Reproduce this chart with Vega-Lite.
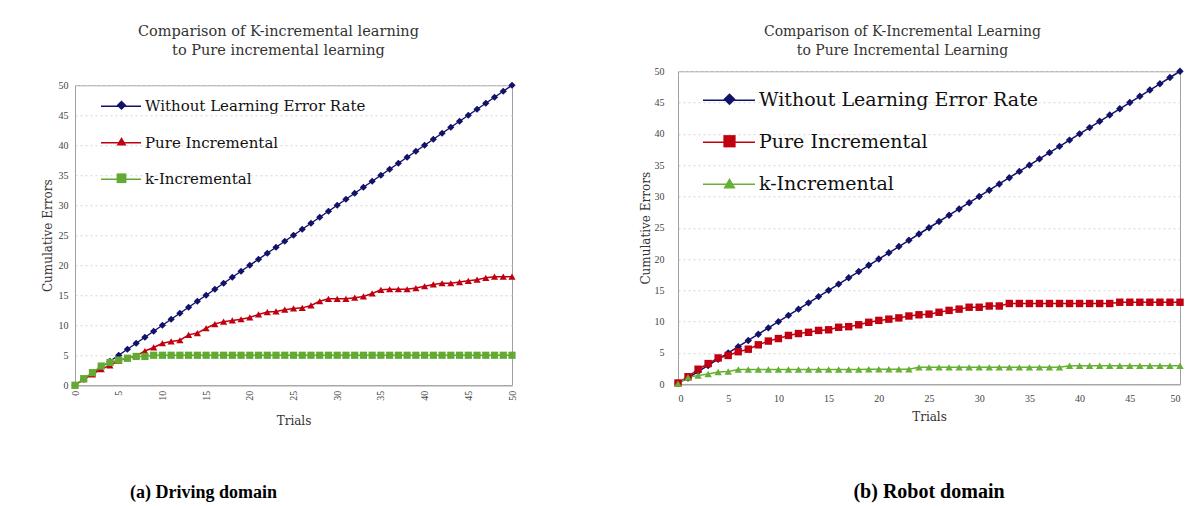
{
"$schema": "https://vega.github.io/schema/vega-lite/v6.json",
"background": "white",
"padding": {"left": 40, "top": 22, "right": 0, "bottom": 0},
"center": true,
"spacing": 120,
"config": {
  "font": "DejaVu Serif",
  "view": {"stroke": "#a0a0a0"},
  "axis": {"domainColor": "#a0a0a0", "ticks": false, "labelFont": "Liberation Serif", "labelFontSize": 10, "labelColor": "#444", "titleFont": "DejaVu Serif", "titleFontSize": 12, "titleFontWeight": "normal", "titleColor": "#333", "gridColor": "#d4d4d4", "gridDash": [2, 3]},
  "legend": {"labelLimit": 500, "padding": 0}
},
"resolve": {"scale": {"color": "independent", "fill": "independent", "shape": "independent"}, "legend": {"color": "independent", "fill": "independent", "shape": "independent"}},
"datasets": {
"driving": [
{"trial":0,"errors":0,"series":"Without Learning Error Rate"},{"trial":1,"errors":1,"series":"Without Learning Error Rate"},{"trial":2,"errors":2,"series":"Without Learning Error Rate"},{"trial":3,"errors":3,"series":"Without Learning Error Rate"},{"trial":4,"errors":4,"series":"Without Learning Error Rate"},{"trial":5,"errors":5,"series":"Without Learning Error Rate"},{"trial":6,"errors":6,"series":"Without Learning Error Rate"},{"trial":7,"errors":7,"series":"Without Learning Error Rate"},{"trial":8,"errors":8,"series":"Without Learning Error Rate"},{"trial":9,"errors":9,"series":"Without Learning Error Rate"},{"trial":10,"errors":10,"series":"Without Learning Error Rate"},{"trial":11,"errors":11,"series":"Without Learning Error Rate"},{"trial":12,"errors":12,"series":"Without Learning Error Rate"},{"trial":13,"errors":13,"series":"Without Learning Error Rate"},{"trial":14,"errors":14,"series":"Without Learning Error Rate"},{"trial":15,"errors":15,"series":"Without Learning Error Rate"},{"trial":16,"errors":16,"series":"Without Learning Error Rate"},{"trial":17,"errors":17,"series":"Without Learning Error Rate"},{"trial":18,"errors":18,"series":"Without Learning Error Rate"},{"trial":19,"errors":19,"series":"Without Learning Error Rate"},{"trial":20,"errors":20,"series":"Without Learning Error Rate"},{"trial":21,"errors":21,"series":"Without Learning Error Rate"},{"trial":22,"errors":22,"series":"Without Learning Error Rate"},{"trial":23,"errors":23,"series":"Without Learning Error Rate"},{"trial":24,"errors":24,"series":"Without Learning Error Rate"},{"trial":25,"errors":25,"series":"Without Learning Error Rate"},{"trial":26,"errors":26,"series":"Without Learning Error Rate"},{"trial":27,"errors":27,"series":"Without Learning Error Rate"},{"trial":28,"errors":28,"series":"Without Learning Error Rate"},{"trial":29,"errors":29,"series":"Without Learning Error Rate"},{"trial":30,"errors":30,"series":"Without Learning Error Rate"},{"trial":31,"errors":31,"series":"Without Learning Error Rate"},{"trial":32,"errors":32,"series":"Without Learning Error Rate"},{"trial":33,"errors":33,"series":"Without Learning Error Rate"},{"trial":34,"errors":34,"series":"Without Learning Error Rate"},{"trial":35,"errors":35,"series":"Without Learning Error Rate"},{"trial":36,"errors":36,"series":"Without Learning Error Rate"},{"trial":37,"errors":37,"series":"Without Learning Error Rate"},{"trial":38,"errors":38,"series":"Without Learning Error Rate"},{"trial":39,"errors":39,"series":"Without Learning Error Rate"},{"trial":40,"errors":40,"series":"Without Learning Error Rate"},{"trial":41,"errors":41,"series":"Without Learning Error Rate"},{"trial":42,"errors":42,"series":"Without Learning Error Rate"},{"trial":43,"errors":43,"series":"Without Learning Error Rate"},{"trial":44,"errors":44,"series":"Without Learning Error Rate"},{"trial":45,"errors":45,"series":"Without Learning Error Rate"},{"trial":46,"errors":46,"series":"Without Learning Error Rate"},{"trial":47,"errors":47,"series":"Without Learning Error Rate"},{"trial":48,"errors":48,"series":"Without Learning Error Rate"},{"trial":49,"errors":49,"series":"Without Learning Error Rate"},{"trial":50,"errors":50,"series":"Without Learning Error Rate"},
{"trial":0,"errors":0,"series":"Pure Incremental"},{"trial":1,"errors":1,"series":"Pure Incremental"},{"trial":2,"errors":1.8,"series":"Pure Incremental"},{"trial":3,"errors":2.7,"series":"Pure Incremental"},{"trial":4,"errors":3.3,"series":"Pure Incremental"},{"trial":5,"errors":4.1,"series":"Pure Incremental"},{"trial":6,"errors":4.5,"series":"Pure Incremental"},{"trial":7,"errors":4.9,"series":"Pure Incremental"},{"trial":8,"errors":5.7,"series":"Pure Incremental"},{"trial":9,"errors":6.3,"series":"Pure Incremental"},{"trial":10,"errors":7,"series":"Pure Incremental"},{"trial":11,"errors":7.3,"series":"Pure Incremental"},{"trial":12,"errors":7.5,"series":"Pure Incremental"},{"trial":13,"errors":8.4,"series":"Pure Incremental"},{"trial":14,"errors":8.7,"series":"Pure Incremental"},{"trial":15,"errors":9.5,"series":"Pure Incremental"},{"trial":16,"errors":10.2,"series":"Pure Incremental"},{"trial":17,"errors":10.6,"series":"Pure Incremental"},{"trial":18,"errors":10.8,"series":"Pure Incremental"},{"trial":19,"errors":11,"series":"Pure Incremental"},{"trial":20,"errors":11.3,"series":"Pure Incremental"},{"trial":21,"errors":11.8,"series":"Pure Incremental"},{"trial":22,"errors":12.2,"series":"Pure Incremental"},{"trial":23,"errors":12.3,"series":"Pure Incremental"},{"trial":24,"errors":12.6,"series":"Pure Incremental"},{"trial":25,"errors":12.8,"series":"Pure Incremental"},{"trial":26,"errors":12.9,"series":"Pure Incremental"},{"trial":27,"errors":13.3,"series":"Pure Incremental"},{"trial":28,"errors":14,"series":"Pure Incremental"},{"trial":29,"errors":14.4,"series":"Pure Incremental"},{"trial":30,"errors":14.4,"series":"Pure Incremental"},{"trial":31,"errors":14.4,"series":"Pure Incremental"},{"trial":32,"errors":14.6,"series":"Pure Incremental"},{"trial":33,"errors":14.8,"series":"Pure Incremental"},{"trial":34,"errors":15.3,"series":"Pure Incremental"},{"trial":35,"errors":15.9,"series":"Pure Incremental"},{"trial":36,"errors":16,"series":"Pure Incremental"},{"trial":37,"errors":16,"series":"Pure Incremental"},{"trial":38,"errors":16,"series":"Pure Incremental"},{"trial":39,"errors":16.2,"series":"Pure Incremental"},{"trial":40,"errors":16.5,"series":"Pure Incremental"},{"trial":41,"errors":16.8,"series":"Pure Incremental"},{"trial":42,"errors":17,"series":"Pure Incremental"},{"trial":43,"errors":17,"series":"Pure Incremental"},{"trial":44,"errors":17.2,"series":"Pure Incremental"},{"trial":45,"errors":17.4,"series":"Pure Incremental"},{"trial":46,"errors":17.6,"series":"Pure Incremental"},{"trial":47,"errors":17.9,"series":"Pure Incremental"},{"trial":48,"errors":18.1,"series":"Pure Incremental"},{"trial":49,"errors":18.1,"series":"Pure Incremental"},{"trial":50,"errors":18.1,"series":"Pure Incremental"},
{"trial":0,"errors":0,"series":"k-Incremental"},{"trial":1,"errors":1.1,"series":"k-Incremental"},{"trial":2,"errors":2.1,"series":"k-Incremental"},{"trial":3,"errors":3.2,"series":"k-Incremental"},{"trial":4,"errors":3.8,"series":"k-Incremental"},{"trial":5,"errors":4.2,"series":"k-Incremental"},{"trial":6,"errors":4.5,"series":"k-Incremental"},{"trial":7,"errors":4.8,"series":"k-Incremental"},{"trial":8,"errors":4.8,"series":"k-Incremental"},{"trial":9,"errors":5,"series":"k-Incremental"},{"trial":10,"errors":5,"series":"k-Incremental"},{"trial":11,"errors":5,"series":"k-Incremental"},{"trial":12,"errors":5,"series":"k-Incremental"},{"trial":13,"errors":5,"series":"k-Incremental"},{"trial":14,"errors":5,"series":"k-Incremental"},{"trial":15,"errors":5,"series":"k-Incremental"},{"trial":16,"errors":5,"series":"k-Incremental"},{"trial":17,"errors":5,"series":"k-Incremental"},{"trial":18,"errors":5,"series":"k-Incremental"},{"trial":19,"errors":5,"series":"k-Incremental"},{"trial":20,"errors":5,"series":"k-Incremental"},{"trial":21,"errors":5,"series":"k-Incremental"},{"trial":22,"errors":5,"series":"k-Incremental"},{"trial":23,"errors":5,"series":"k-Incremental"},{"trial":24,"errors":5,"series":"k-Incremental"},{"trial":25,"errors":5,"series":"k-Incremental"},{"trial":26,"errors":5,"series":"k-Incremental"},{"trial":27,"errors":5,"series":"k-Incremental"},{"trial":28,"errors":5,"series":"k-Incremental"},{"trial":29,"errors":5,"series":"k-Incremental"},{"trial":30,"errors":5,"series":"k-Incremental"},{"trial":31,"errors":5,"series":"k-Incremental"},{"trial":32,"errors":5,"series":"k-Incremental"},{"trial":33,"errors":5,"series":"k-Incremental"},{"trial":34,"errors":5,"series":"k-Incremental"},{"trial":35,"errors":5,"series":"k-Incremental"},{"trial":36,"errors":5,"series":"k-Incremental"},{"trial":37,"errors":5,"series":"k-Incremental"},{"trial":38,"errors":5,"series":"k-Incremental"},{"trial":39,"errors":5,"series":"k-Incremental"},{"trial":40,"errors":5,"series":"k-Incremental"},{"trial":41,"errors":5,"series":"k-Incremental"},{"trial":42,"errors":5,"series":"k-Incremental"},{"trial":43,"errors":5,"series":"k-Incremental"},{"trial":44,"errors":5,"series":"k-Incremental"},{"trial":45,"errors":5,"series":"k-Incremental"},{"trial":46,"errors":5,"series":"k-Incremental"},{"trial":47,"errors":5,"series":"k-Incremental"},{"trial":48,"errors":5,"series":"k-Incremental"},{"trial":49,"errors":5,"series":"k-Incremental"},{"trial":50,"errors":5,"series":"k-Incremental"}
],
"robot": [
{"trial":0,"errors":0.2,"series":"Without Learning Error Rate"},{"trial":1,"errors":1,"series":"Without Learning Error Rate"},{"trial":2,"errors":2,"series":"Without Learning Error Rate"},{"trial":3,"errors":3,"series":"Without Learning Error Rate"},{"trial":4,"errors":4,"series":"Without Learning Error Rate"},{"trial":5,"errors":5,"series":"Without Learning Error Rate"},{"trial":6,"errors":6,"series":"Without Learning Error Rate"},{"trial":7,"errors":7,"series":"Without Learning Error Rate"},{"trial":8,"errors":8,"series":"Without Learning Error Rate"},{"trial":9,"errors":9,"series":"Without Learning Error Rate"},{"trial":10,"errors":10,"series":"Without Learning Error Rate"},{"trial":11,"errors":11,"series":"Without Learning Error Rate"},{"trial":12,"errors":12,"series":"Without Learning Error Rate"},{"trial":13,"errors":13,"series":"Without Learning Error Rate"},{"trial":14,"errors":14,"series":"Without Learning Error Rate"},{"trial":15,"errors":15,"series":"Without Learning Error Rate"},{"trial":16,"errors":16,"series":"Without Learning Error Rate"},{"trial":17,"errors":17,"series":"Without Learning Error Rate"},{"trial":18,"errors":18,"series":"Without Learning Error Rate"},{"trial":19,"errors":19,"series":"Without Learning Error Rate"},{"trial":20,"errors":20,"series":"Without Learning Error Rate"},{"trial":21,"errors":21,"series":"Without Learning Error Rate"},{"trial":22,"errors":22,"series":"Without Learning Error Rate"},{"trial":23,"errors":23,"series":"Without Learning Error Rate"},{"trial":24,"errors":24,"series":"Without Learning Error Rate"},{"trial":25,"errors":25,"series":"Without Learning Error Rate"},{"trial":26,"errors":26,"series":"Without Learning Error Rate"},{"trial":27,"errors":27,"series":"Without Learning Error Rate"},{"trial":28,"errors":28,"series":"Without Learning Error Rate"},{"trial":29,"errors":29,"series":"Without Learning Error Rate"},{"trial":30,"errors":30,"series":"Without Learning Error Rate"},{"trial":31,"errors":31,"series":"Without Learning Error Rate"},{"trial":32,"errors":32,"series":"Without Learning Error Rate"},{"trial":33,"errors":33,"series":"Without Learning Error Rate"},{"trial":34,"errors":34,"series":"Without Learning Error Rate"},{"trial":35,"errors":35,"series":"Without Learning Error Rate"},{"trial":36,"errors":36,"series":"Without Learning Error Rate"},{"trial":37,"errors":37,"series":"Without Learning Error Rate"},{"trial":38,"errors":38,"series":"Without Learning Error Rate"},{"trial":39,"errors":39,"series":"Without Learning Error Rate"},{"trial":40,"errors":40,"series":"Without Learning Error Rate"},{"trial":41,"errors":41,"series":"Without Learning Error Rate"},{"trial":42,"errors":42,"series":"Without Learning Error Rate"},{"trial":43,"errors":43,"series":"Without Learning Error Rate"},{"trial":44,"errors":44,"series":"Without Learning Error Rate"},{"trial":45,"errors":45,"series":"Without Learning Error Rate"},{"trial":46,"errors":46,"series":"Without Learning Error Rate"},{"trial":47,"errors":47,"series":"Without Learning Error Rate"},{"trial":48,"errors":48,"series":"Without Learning Error Rate"},{"trial":49,"errors":49,"series":"Without Learning Error Rate"},{"trial":50,"errors":50,"series":"Without Learning Error Rate"},
{"trial":0,"errors":0.2,"series":"Pure Incremental"},{"trial":1,"errors":1.2,"series":"Pure Incremental"},{"trial":2,"errors":2.4,"series":"Pure Incremental"},{"trial":3,"errors":3.3,"series":"Pure Incremental"},{"trial":4,"errors":4.2,"series":"Pure Incremental"},{"trial":5,"errors":4.6,"series":"Pure Incremental"},{"trial":6,"errors":5.2,"series":"Pure Incremental"},{"trial":7,"errors":5.6,"series":"Pure Incremental"},{"trial":8,"errors":6.3,"series":"Pure Incremental"},{"trial":9,"errors":6.9,"series":"Pure Incremental"},{"trial":10,"errors":7.3,"series":"Pure Incremental"},{"trial":11,"errors":7.8,"series":"Pure Incremental"},{"trial":12,"errors":8.1,"series":"Pure Incremental"},{"trial":13,"errors":8.3,"series":"Pure Incremental"},{"trial":14,"errors":8.6,"series":"Pure Incremental"},{"trial":15,"errors":8.7,"series":"Pure Incremental"},{"trial":16,"errors":9.1,"series":"Pure Incremental"},{"trial":17,"errors":9.2,"series":"Pure Incremental"},{"trial":18,"errors":9.5,"series":"Pure Incremental"},{"trial":19,"errors":9.9,"series":"Pure Incremental"},{"trial":20,"errors":10.2,"series":"Pure Incremental"},{"trial":21,"errors":10.4,"series":"Pure Incremental"},{"trial":22,"errors":10.6,"series":"Pure Incremental"},{"trial":23,"errors":10.9,"series":"Pure Incremental"},{"trial":24,"errors":11.1,"series":"Pure Incremental"},{"trial":25,"errors":11.2,"series":"Pure Incremental"},{"trial":26,"errors":11.5,"series":"Pure Incremental"},{"trial":27,"errors":11.8,"series":"Pure Incremental"},{"trial":28,"errors":12,"series":"Pure Incremental"},{"trial":29,"errors":12.3,"series":"Pure Incremental"},{"trial":30,"errors":12.3,"series":"Pure Incremental"},{"trial":31,"errors":12.5,"series":"Pure Incremental"},{"trial":32,"errors":12.5,"series":"Pure Incremental"},{"trial":33,"errors":12.9,"series":"Pure Incremental"},{"trial":34,"errors":12.9,"series":"Pure Incremental"},{"trial":35,"errors":12.9,"series":"Pure Incremental"},{"trial":36,"errors":12.9,"series":"Pure Incremental"},{"trial":37,"errors":12.9,"series":"Pure Incremental"},{"trial":38,"errors":12.9,"series":"Pure Incremental"},{"trial":39,"errors":12.9,"series":"Pure Incremental"},{"trial":40,"errors":12.9,"series":"Pure Incremental"},{"trial":41,"errors":12.9,"series":"Pure Incremental"},{"trial":42,"errors":12.9,"series":"Pure Incremental"},{"trial":43,"errors":12.9,"series":"Pure Incremental"},{"trial":44,"errors":13.1,"series":"Pure Incremental"},{"trial":45,"errors":13.1,"series":"Pure Incremental"},{"trial":46,"errors":13.1,"series":"Pure Incremental"},{"trial":47,"errors":13.1,"series":"Pure Incremental"},{"trial":48,"errors":13.1,"series":"Pure Incremental"},{"trial":49,"errors":13.1,"series":"Pure Incremental"},{"trial":50,"errors":13.1,"series":"Pure Incremental"},
{"trial":0,"errors":0.1,"series":"k-Incremental"},{"trial":1,"errors":1.1,"series":"k-Incremental"},{"trial":2,"errors":1.4,"series":"k-Incremental"},{"trial":3,"errors":1.65,"series":"k-Incremental"},{"trial":4,"errors":1.95,"series":"k-Incremental"},{"trial":5,"errors":2.05,"series":"k-Incremental"},{"trial":6,"errors":2.35,"series":"k-Incremental"},{"trial":7,"errors":2.35,"series":"k-Incremental"},{"trial":8,"errors":2.35,"series":"k-Incremental"},{"trial":9,"errors":2.35,"series":"k-Incremental"},{"trial":10,"errors":2.35,"series":"k-Incremental"},{"trial":11,"errors":2.35,"series":"k-Incremental"},{"trial":12,"errors":2.35,"series":"k-Incremental"},{"trial":13,"errors":2.35,"series":"k-Incremental"},{"trial":14,"errors":2.35,"series":"k-Incremental"},{"trial":15,"errors":2.35,"series":"k-Incremental"},{"trial":16,"errors":2.35,"series":"k-Incremental"},{"trial":17,"errors":2.35,"series":"k-Incremental"},{"trial":18,"errors":2.35,"series":"k-Incremental"},{"trial":19,"errors":2.4,"series":"k-Incremental"},{"trial":20,"errors":2.4,"series":"k-Incremental"},{"trial":21,"errors":2.4,"series":"k-Incremental"},{"trial":22,"errors":2.4,"series":"k-Incremental"},{"trial":23,"errors":2.4,"series":"k-Incremental"},{"trial":24,"errors":2.7,"series":"k-Incremental"},{"trial":25,"errors":2.7,"series":"k-Incremental"},{"trial":26,"errors":2.7,"series":"k-Incremental"},{"trial":27,"errors":2.7,"series":"k-Incremental"},{"trial":28,"errors":2.7,"series":"k-Incremental"},{"trial":29,"errors":2.7,"series":"k-Incremental"},{"trial":30,"errors":2.7,"series":"k-Incremental"},{"trial":31,"errors":2.7,"series":"k-Incremental"},{"trial":32,"errors":2.7,"series":"k-Incremental"},{"trial":33,"errors":2.7,"series":"k-Incremental"},{"trial":34,"errors":2.7,"series":"k-Incremental"},{"trial":35,"errors":2.7,"series":"k-Incremental"},{"trial":36,"errors":2.7,"series":"k-Incremental"},{"trial":37,"errors":2.7,"series":"k-Incremental"},{"trial":38,"errors":2.7,"series":"k-Incremental"},{"trial":39,"errors":2.95,"series":"k-Incremental"},{"trial":40,"errors":2.95,"series":"k-Incremental"},{"trial":41,"errors":2.95,"series":"k-Incremental"},{"trial":42,"errors":2.95,"series":"k-Incremental"},{"trial":43,"errors":2.95,"series":"k-Incremental"},{"trial":44,"errors":2.95,"series":"k-Incremental"},{"trial":45,"errors":2.95,"series":"k-Incremental"},{"trial":46,"errors":2.95,"series":"k-Incremental"},{"trial":47,"errors":2.95,"series":"k-Incremental"},{"trial":48,"errors":2.95,"series":"k-Incremental"},{"trial":49,"errors":2.95,"series":"k-Incremental"},{"trial":50,"errors":2.95,"series":"k-Incremental"}
]
},
"hconcat": [
{
  "width": 437, "height": 300,
  "data": {"name": "driving"},
  "title": {"text": "(a) Driving domain", "orient": "bottom", "anchor": "start", "frame": "group", "dx": 55, "offset": 58, "font": "Liberation Serif", "fontSize": 18, "fontWeight": "bold", "color": "#000"},
  "resolve": {"axis": {"x": "independent"}},
  "layer": [
    {
      "mark": {"type": "line", "strokeWidth": 1.5},
      "encoding": {
        "x": {"field": "trial", "type": "quantitative", "scale": {"domain": [0, 50], "nice": false},
              "axis": {"orient": "bottom", "values": [0,5,10,15,20,25,30,35,40,45,50], "labelAngle": 270, "labelPadding": 5, "grid": false, "title": "Trials", "titlePadding": 15}},
        "y": {"field": "errors", "type": "quantitative", "scale": {"domain": [0, 50], "nice": false},
              "axis": {"values": [0,5,10,15,20,25,30,35,40,45,50], "labelPadding": 7, "grid": true, "title": "Cumulative Errors", "titlePadding": 4}},
        "color": {"field": "series", "type": "nominal",
                  "scale": {"domain": ["Without Learning Error Rate", "Pure Incremental", "k-Incremental"], "range": ["#12126a", "#c00010", "#62aa32"]},
                  "legend": {"orient": "none", "legendX": 25, "legendY": 0, "title": null, "symbolType": "stroke", "symbolSize": 1600, "symbolStrokeWidth": 1.5, "labelFont": "DejaVu Serif", "labelFontSize": 15, "labelColor": "#111", "rowPadding": 7.5, "labelOffset": 3}}
      }
    },
    {
      "mark": {"type": "point", "filled": true, "opacity": 1, "size": 52},
      "encoding": {
        "x": {"field": "trial", "type": "quantitative",
              "axis": {"orient": "top", "labels": false, "domain": false, "grid": false, "title": ["Comparison of K-incremental learning", "to Pure incremental learning"], "titlePadding": 28, "titleFontSize": 14.5, "titleLineHeight": 19, "titleX": 203}},
        "y": {"field": "errors", "type": "quantitative",
              "axis": {"values": [0,5,10,15,20,25,30,35,40,45,50], "labelPadding": 7, "grid": true, "title": "Cumulative Errors", "titlePadding": 4}},
        "fill": {"field": "series", "type": "nominal", "sort": null,
                 "scale": {"range": ["#12126a", "#c00010", "#62aa32"]},
                 "legend": {"orient": "none", "legendX": 39, "legendY": 12.5, "title": null, "symbolSize": 95, "symbolOpacity": 1, "labelFont": "DejaVu Serif", "labelFontSize": 15, "labelExpr": "''", "rowPadding": 20}},
        "shape": {"field": "series", "type": "nominal", "sort": null,
                  "scale": {"range": ["diamond", "triangle-up", "square"]},
                  "legend": {"orient": "none", "legendX": 39, "legendY": 12.5, "title": null, "symbolSize": 95, "symbolOpacity": 1, "labelFont": "DejaVu Serif", "labelFontSize": 15, "labelExpr": "''", "rowPadding": 20}}
      }
    }
  ]
},
{
  "width": 502, "height": 313,
  "data": {"name": "robot"},
  "title": {"text": ["(b) Robot domain", ""], "orient": "bottom", "anchor": "middle", "frame": "group", "offset": 60, "lineHeight": 14, "font": "Liberation Serif", "fontSize": 20, "fontWeight": "bold", "color": "#000"},
  "resolve": {"axis": {"x": "independent"}},
  "layer": [
    {
      "mark": {"type": "line", "strokeWidth": 1.5},
      "encoding": {
        "x": {"field": "trial", "type": "quantitative", "scale": {"domain": [0, 50], "nice": false},
              "axis": {"orient": "bottom", "values": [0,5,10,15,20,25,30,35,40,45,50], "labelAngle": 0, "labelPadding": 9, "grid": false, "title": "Trials", "titlePadding": 8}},
        "y": {"field": "errors", "type": "quantitative", "scale": {"domain": [0, 50], "nice": false},
              "axis": {"values": [0,5,10,15,20,25,30,35,40,45,50], "labelPadding": 14, "grid": true, "title": "Cumulative Errors", "titlePadding": 2}},
        "color": {"field": "series", "type": "nominal",
                  "scale": {"domain": ["Without Learning Error Rate", "Pure Incremental", "k-Incremental"], "range": ["#12126a", "#c00010", "#66b035"]},
                  "legend": {"orient": "none", "legendX": 24, "legendY": 2, "title": null, "symbolType": "stroke", "symbolSize": 2704, "symbolStrokeWidth": 1.5, "labelFont": "DejaVu Serif", "labelFontSize": 19, "labelColor": "#111", "rowPadding": 5, "labelOffset": 3}}
      }
    },
    {
      "mark": {"type": "point", "filled": true, "opacity": 1, "size": 55},
      "encoding": {
        "x": {"field": "trial", "type": "quantitative",
              "axis": {"orient": "top", "labels": false, "domain": false, "grid": false, "title": ["Comparison of K-Incremental Learning", "to Pure Incremental Learning"], "titlePadding": 14, "titleFontSize": 14, "titleLineHeight": 19, "titleX": 224}},
        "y": {"field": "errors", "type": "quantitative",
              "axis": {"values": [0,5,10,15,20,25,30,35,40,45,50], "labelPadding": 14, "grid": true, "title": "Cumulative Errors", "titlePadding": 2}},
        "fill": {"field": "series", "type": "nominal", "sort": null,
                 "scale": {"range": ["#12126a", "#c00010", "#66b035"]},
                 "legend": {"orient": "none", "legendX": 42, "legendY": 18.5, "title": null, "symbolSize": 150, "symbolOpacity": 1, "labelFont": "DejaVu Serif", "labelFontSize": 19, "labelExpr": "''", "rowPadding": 22}},
        "shape": {"field": "series", "type": "nominal", "sort": null,
                  "scale": {"range": ["diamond", "square", "triangle-up"]},
                  "legend": {"orient": "none", "legendX": 42, "legendY": 18.5, "title": null, "symbolSize": 150, "symbolOpacity": 1, "labelFont": "DejaVu Serif", "labelFontSize": 19, "labelExpr": "''", "rowPadding": 22}}
      }
    }
  ]
}
]
}
